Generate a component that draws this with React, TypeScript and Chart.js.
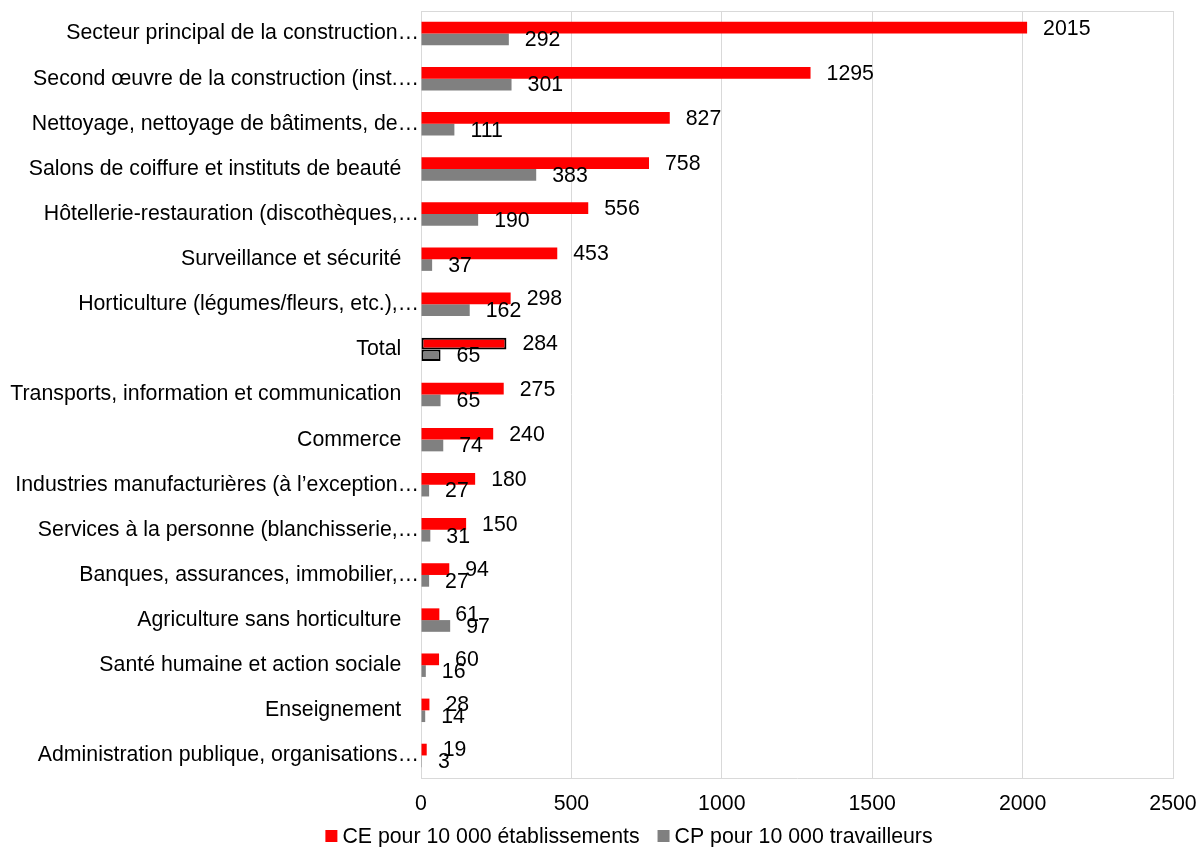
import React, { useEffect, useRef } from "react";
import { Chart, registerables } from "chart.js";

Chart.register(...registerables);

const categories: string[] = [
  "Secteur principal de la construction…",
  "Second œuvre de la construction (inst.…",
  "Nettoyage, nettoyage de bâtiments, de…",
  "Salons de coiffure et instituts de beauté",
  "Hôtellerie-restauration (discothèques,…",
  "Surveillance et sécurité",
  "Horticulture (légumes/fleurs, etc.),…",
  "Total",
  "Transports, information et communication",
  "Commerce",
  "Industries manufacturières (à l’exception…",
  "Services à la personne (blanchisserie,…",
  "Banques, assurances, immobilier,…",
  "Agriculture sans horticulture",
  "Santé humaine et action sociale",
  "Enseignement",
  "Administration publique, organisations…",
];

const ceValues: number[] = [2015, 1295, 827, 758, 556, 453, 298, 284, 275, 240, 180, 150, 94, 61, 60, 28, 19];
const cpValues: number[] = [292, 301, 111, 383, 190, 37, 162, 65, 65, 74, 27, 31, 27, 97, 16, 14, 3];

const seriesNames: string[] = ["CE pour 10 000 établissements", "CP pour 10 000 travailleurs"];
const seriesColors: string[] = ["#ff0000", "#808080"];
const xTicks: number[] = [0, 500, 1000, 1500, 2000, 2500];

const FONT = "'Liberation Sans', Arial, sans-serif";
const FS = 21.3;
const highlight = "Total";

const labelsPlugin = {
  id: "valueLabels",
  afterDatasetsDraw(chart: any) {
    const ctx = chart.ctx;
    ctx.save();
    ctx.font = `${FS}px ${FONT}`;
    ctx.fillStyle = "#000000";
    ctx.textAlign = "left";
    ctx.textBaseline = "middle";
    chart.data.datasets.forEach((ds: any, di: number) => {
      const meta = chart.getDatasetMeta(di);
      meta.data.forEach((bar: any, i: number) => {
        ctx.fillText(String(ds.data[i]), bar.x + 16, bar.y + 1);
      });
    });
    ctx.restore();
  },
};

const framePlugin = {
  id: "frame",
  beforeDatasetsDraw(chart: any) {
    const { ctx, chartArea } = chart;
    ctx.save();
    ctx.strokeStyle = "#d9d9d9";
    ctx.lineWidth = 1;
    ctx.beginPath();
    ctx.moveTo(chartArea.left, chartArea.top + 0.5);
    ctx.lineTo(chartArea.right, chartArea.top + 0.5);
    ctx.stroke();
    ctx.restore();
  },
};

const legendPlugin = {
  id: "bottomLegend",
  afterDraw(chart: any) {
    const ctx = chart.ctx;
    ctx.save();
    ctx.font = `${FS}px ${FONT}`;
    ctx.textBaseline = "middle";
    ctx.textAlign = "left";
    const box = 12;
    const gapText = 5;
    const gapItem = 18;
    const items = chart.data.datasets.map((ds: any) => ({
      label: ds.label as string,
      color: ds.backgroundColor as string,
      w: ctx.measureText(ds.label).width,
    }));
    const total =
      items.reduce((s: number, it: any) => s + box + gapText + it.w, 0) + gapItem * (items.length - 1);
    const cx = 629;
    const cy = 836;
    let x = cx - total / 2;
    items.forEach((it: any) => {
      ctx.fillStyle = it.color;
      ctx.fillRect(x, cy - box / 2, box, box);
      x += box + gapText;
      ctx.fillStyle = "#000000";
      ctx.fillText(it.label, x, cy + 1);
      x += it.w + gapItem;
    });
    ctx.restore();
  },
};

export default function App() {
  const ref = useRef<HTMLCanvasElement | null>(null);

  useEffect(() => {
    if (!ref.current) return;
    const idx = categories.indexOf(highlight);
    const borderW = categories.map((_, i) => (i === idx ? 2 : 0));
    const borderC = categories.map((_, i) => (i === idx ? "#000000" : "rgba(0,0,0,0)"));
    const chart = new Chart(ref.current, {
      type: "bar",
      data: {
        labels: categories,
        datasets: [
          {
            label: seriesNames[0],
            data: ceValues,
            backgroundColor: seriesColors[0],
            borderColor: borderC,
            borderWidth: borderW,
            borderSkipped: false,
            categoryPercentage: 0.52,
            barPercentage: 1,
          },
          {
            label: seriesNames[1],
            data: cpValues,
            backgroundColor: seriesColors[1],
            borderColor: borderC,
            borderWidth: borderW,
            borderSkipped: false,
            categoryPercentage: 0.52,
            barPercentage: 1,
          },
        ],
      },
      options: {
        indexAxis: "y",
        animation: false,
        responsive: false,
        maintainAspectRatio: false,
        layout: { padding: { top: 11, right: 26, bottom: 29, left: 0 } },
        scales: {
          x: {
            min: 0,
            max: 2500,
            afterBuildTicks(scale: any) {
              scale.ticks = xTicks.map((v) => ({ value: v }));
            },
            afterFit(scale: any) {
              scale.height = 40;
              scale.paddingLeft = 0;
              scale.paddingRight = 0;
            },
            grid: { color: "#d9d9d9", drawTicks: false, lineWidth: 1 },
            border: { display: true, color: "#d9d9d9" },
            ticks: {
              color: "#000000",
              font: { family: FONT, size: FS },
              padding: 13,
              maxRotation: 0,
              callback: (v: any) => String(v),
            },
          },
          y: {
            afterFit(scale: any) {
              scale.width = 421;
              scale.paddingTop = 0;
              scale.paddingBottom = 0;
            },
            grid: { display: false, drawTicks: false },
            border: { display: true, color: "#d9d9d9" },
            ticks: {
              color: "#000000",
              font: { family: FONT, size: FS },
              padding: 2,
              autoSkip: false,
              callback: (_v: any, i: number) => {
                const s = categories[i];
                return s.endsWith("…") ? s : s + "   ";
              },
            },
          },
        },
        plugins: {
          legend: { display: false },
          tooltip: { enabled: false },
        },
      },
      plugins: [labelsPlugin, framePlugin, legendPlugin],
    });
    return () => chart.destroy();
  }, []);

  return (
    <div style={{ position: "fixed", left: 0, top: 0, width: 1199, height: 847, background: "#fff" }}>
      <canvas ref={ref} width={1199} height={847} style={{ width: 1199, height: 847, display: "block" }} />
    </div>
  );
}
